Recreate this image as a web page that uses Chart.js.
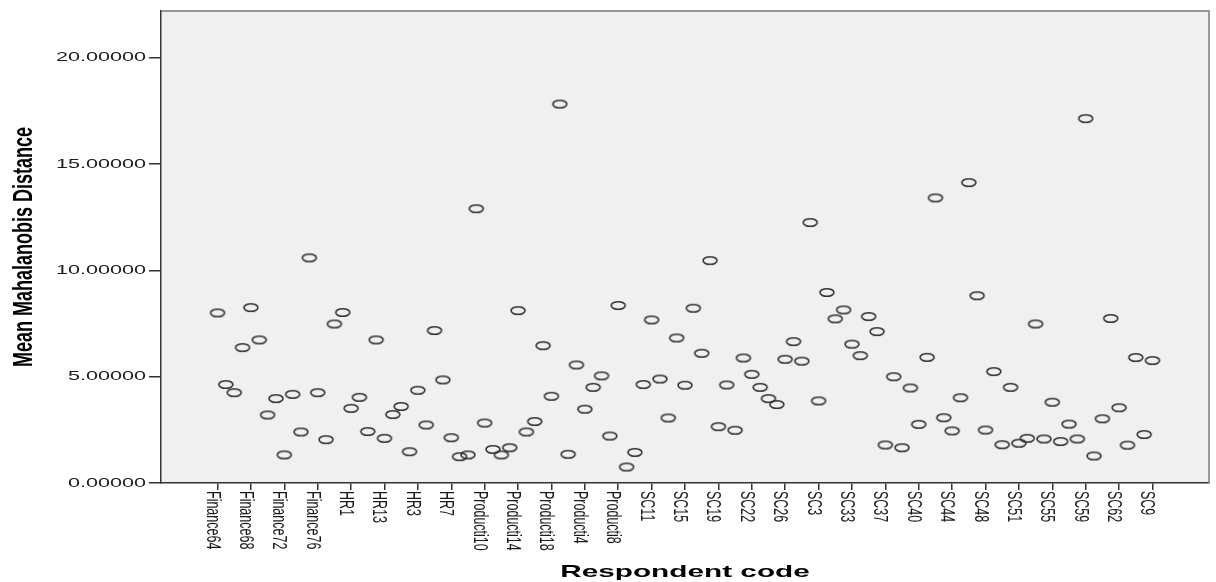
<!DOCTYPE html>
<html>
<head>
<meta charset="utf-8">
<script src="https://cdn.jsdelivr.net/npm/chart.js@4.4.1/dist/chart.umd.min.js"></script>
<style>
  html, body { margin: 0; padding: 0; background: #ffffff; }
  canvas { display: block; }
</style>
</head>
<body>
<canvas id="mahalChart" width="1216" height="582"></canvas>
<script>
// respondent codes, in the order the x axis lists them
const respondents = [
  "Finance64", "Finance65", "Finance66", "Finance67", "Finance68", "Finance69", "Finance70", "Finance71",
  "Finance72", "Finance73", "Finance74", "Finance75", "Finance76", "Finance77", "Finance78", "Finance79",
  "HR1", "HR10", "HR11", "HR12", "HR13", "HR14", "HR15", "HR2",
  "HR3", "HR4", "HR5", "HR6", "HR7", "HR8", "HR9", "Producti1",
  "Producti10", "Producti11", "Producti12", "Producti13", "Producti14", "Producti15", "Producti16", "Producti17",
  "Producti18", "Producti19", "Producti2", "Producti3", "Producti4", "Producti5", "Producti6", "Producti7",
  "Producti8", "Producti9", "SC1", "SC10", "SC11", "SC12", "SC13", "SC14",
  "SC15", "SC16", "SC17", "SC18", "SC19", "SC2", "SC20", "SC21",
  "SC22", "SC23", "SC24", "SC25", "SC26", "SC27", "SC28", "SC29",
  "SC3", "SC30", "SC31", "SC32", "SC33", "SC34", "SC35", "SC36",
  "SC37", "SC38", "SC39", "SC4", "SC40", "SC41", "SC42", "SC43",
  "SC44", "SC45", "SC46", "SC47", "SC48", "SC49", "SC5", "SC50",
  "SC51", "SC52", "SC53", "SC54", "SC55", "SC56", "SC57", "SC58",
  "SC59", "SC6", "SC60", "SC61", "SC62", "SC63", "SC7", "SC8",
  "SC9"
];

// mean Mahalanobis distance per respondent
const meanDistance = [
  8.00, 4.63, 4.25, 6.37, 8.25, 6.73, 3.20, 3.97,
  1.32, 4.17, 2.40, 10.59, 4.25, 2.04, 7.48, 8.02,
  3.51, 4.03, 2.42, 6.73, 2.10, 3.22, 3.60, 1.47,
  4.36, 2.73, 7.17, 4.85, 2.13, 1.24, 1.32, 12.90,
  2.82, 1.58, 1.32, 1.66, 8.11, 2.40, 2.89, 6.46,
  4.08, 17.82, 1.35, 5.55, 3.47, 4.50, 5.04, 2.21,
  8.35, 0.75, 1.44, 4.63, 7.67, 4.89, 3.06, 6.82,
  4.60, 8.22, 6.10, 10.46, 2.65, 4.61, 2.48, 5.88,
  5.11, 4.50, 3.97, 3.69, 5.82, 6.65, 5.73, 12.25,
  3.86, 8.96, 7.72, 8.14, 6.53, 5.99, 7.83, 7.12,
  1.79, 5.00, 1.66, 4.47, 2.76, 5.91, 13.41, 3.07,
  2.45, 4.01, 14.13, 8.81, 2.49, 5.24, 1.80, 4.50,
  1.87, 2.10, 7.48, 2.07, 3.80, 1.95, 2.77, 2.07,
  17.14, 1.27, 3.02, 7.74, 3.54, 1.78, 5.90, 2.28,
  5.76
];

const yTicks = [0, 5, 10, 15, 20];
const labelledIdx = respondents.map((_, i) => i).filter(i => i % 4 === 0);

const FONT = '"Liberation Sans", Arial, sans-serif';

// hollow, slightly squashed ring used as the marker
const ring = document.createElement("canvas");
ring.width = 18;
ring.height = 11;
const rc = ring.getContext("2d");
rc.strokeStyle = "#333333";
rc.lineWidth = 1.6;
rc.beginPath();
rc.ellipse(9, 5.5, 7, 3.8, 0, 0, Math.PI * 2);
rc.stroke();

// stretched text, plot background and the top/right frame
const spssLook = {
  id: "spssLook",
  beforeDraw(chart) {
    const { ctx, chartArea: a } = chart;
    ctx.save();
    ctx.fillStyle = "#f0f0f0";
    ctx.fillRect(a.left, a.top, a.right - a.left, a.bottom - a.top);
    ctx.restore();
  },
  afterDraw(chart) {
    const { ctx, chartArea: a, scales: { x, y } } = chart;
    ctx.save();
    ctx.strokeStyle = "#7a7a7a";
    ctx.lineWidth = 1.5;
    ctx.beginPath();
    ctx.moveTo(a.left, a.top);
    ctx.lineTo(a.right, a.top);
    ctx.lineTo(a.right, a.bottom);
    ctx.stroke();

    ctx.fillStyle = "#1a1a1a";

    // y tick labels
    ctx.font = "13px " + FONT;
    ctx.textAlign = "right";
    ctx.textBaseline = "middle";
    yTicks.forEach(v => {
      ctx.save();
      ctx.translate(a.left - 15, y.getPixelForValue(v));
      ctx.scale(1.66, 1);
      ctx.fillText(v.toFixed(5), 0, 0);
      ctx.restore();
    });

    // x tick labels, turned clockwise
    ctx.font = "12.5px " + FONT;
    ctx.textAlign = "left";
    ctx.textBaseline = "alphabetic";
    x.ticks.forEach(t => {
      ctx.save();
      ctx.translate(x.getPixelForValue(t.value) - 11, a.bottom + 8);
      ctx.scale(1.65, 1);
      ctx.rotate(Math.PI / 2);
      ctx.fillText(respondents[t.value], 0, 0);
      ctx.restore();
    });

    // axis titles
    ctx.fillStyle = "#000000";
    ctx.font = "bold 18px " + FONT;
    ctx.textAlign = "center";
    ctx.save();
    ctx.translate(32, (a.top + a.bottom) / 2);
    ctx.scale(1.55, 1);
    ctx.rotate(-Math.PI / 2);
    ctx.fillText("Mean Mahalanobis Distance", 0, 0);
    ctx.restore();

    ctx.font = "bold 17px " + FONT;
    ctx.save();
    ctx.translate((a.left + a.right) / 2, 577);
    ctx.scale(1.75, 1);
    ctx.fillText("Respondent code", 0, 0);
    ctx.restore();
    ctx.restore();
  }
};

const ctx = document.getElementById("mahalChart").getContext("2d");

new Chart(ctx, {
  type: "scatter",
  data: {
    datasets: [
      {
        label: "Mean Mahalanobis Distance",
        data: respondents.map((r, i) => ({ x: i, y: meanDistance[i] })),
        pointStyle: ring,
        pointRadius: 6,
        pointHoverRadius: 6,
      },
    ],
  },
  options: {
    responsive: false,
    animation: false,
    devicePixelRatio: 1,
    layout: { padding: { top: 11, right: 4, left: 0, bottom: 0 } },
    plugins: {
      legend: { display: false },
      tooltip: { enabled: false },
    },
    scales: {
      x: {
        type: "linear",
        min: -6.77,
        max: 118.77,
        afterBuildTicks: s => { s.ticks = labelledIdx.map(v => ({ value: v })); },
        afterFit: s => { s.height = 99; },
        ticks: { display: false },
        grid: { drawOnChartArea: false, drawTicks: true, tickLength: 7, color: "#333333", lineWidth: 1.5 },
        border: { color: "#333333", width: 1.5 },
      },
      y: {
        type: "linear",
        min: 0,
        max: 22.2,
        afterBuildTicks: s => { s.ticks = yTicks.map(v => ({ value: v })); },
        afterFit: s => { s.width = 161; },
        ticks: { display: false },
        grid: { drawOnChartArea: false, drawTicks: true, tickLength: 12, color: "#333333", lineWidth: 1.5 },
        border: { color: "#333333", width: 1.5 },
      },
    },
  },
  plugins: [spssLook],
});
</script>
</body>
</html>
